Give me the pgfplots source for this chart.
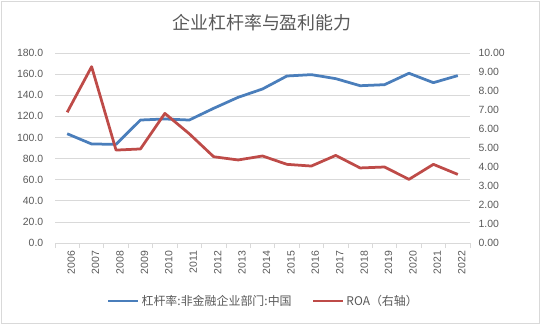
\documentclass[border=0pt]{standalone}
\usepackage{pgfplots}
\pgfplotsset{compat=1.18}
\usepackage{fontspec}
\setmainfont{Liberation Sans}
\newfontfamily\cjk{Noto Sans CJK SC}
\definecolor{txt}{HTML}{595959}
\definecolor{gridc}{HTML}{D9D9D9}
\definecolor{blu}{HTML}{4A7EBB}
\definecolor{rd}{HTML}{BE4B48}
\pgfplotsset{
  common/.style={
    at={(55bp,82bp)}, anchor=south west, scale only axis,
    width=415bp, height=190bp,
    xmin=-0.5, xmax=16.5,
    /pgf/number format/assume math mode=true,
    tick label style={txt, font=\fontsize{10.5}{12}\selectfont},
  },
  legend image code/.code={\draw[#1] (0bp,0bp) -- (30bp,0bp);},
}
\begin{document}
\begin{tikzpicture}[x=1bp,y=1bp]
\path[use as bounding box] (0,0) rectangle (541,325);
\draw[gridc, line width=0.75bp] (1,2) rectangle (539.5,323.5);
\node[txt, font=\cjk\fontsize{18}{20}\selectfont] at (262,302) {企业杠杆率与盈利能力};
\begin{axis}[common,
  ymin=0, ymax=180, ytick={0,20,...,180},
  yticklabel style={/pgf/number format/fixed, /pgf/number format/fixed zerofill, /pgf/number format/precision=1, xshift=-4bp},
  ytick style={draw=none},
  xtick={0,...,16},
  xticklabels={2006,2007,2008,2009,2010,2011,2012,2013,2014,2015,2016,2017,2018,2019,2020,2021,2022},
  xticklabel style={rotate=90, anchor=east, yshift=-4bp},
  major x tick style={draw=none},
  minor xtick={-0.5,0.5,...,16.5},
  minor x tick style={gridc, line width=0.75bp},
  minor tick length=5bp, tick align=outside,
  axis x line*=bottom, axis y line*=left,
  x axis line style={gridc, line width=0.75bp, -},
  y axis line style={draw=none},
  ymajorgrids, grid style={gridc, line width=0.75bp},
  legend columns=2,
  legend style={draw=none, fill=none, at={(0.502,-0.305)}, anchor=center,
    font=\cjk\fontsize{12}{14}\selectfont, text=txt,
    /tikz/every even column/.append style={column sep=18bp}},
]
\addplot[blu, line width=2.75bp, line join=round] coordinates {
(0,103.5) (1,93.8) (2,93.5) (3,116.5) (4,117.5) (5,116.5) (6,127.6) (7,138.0)
(8,145.9) (9,158.2) (10,159.5) (11,155.7) (12,149.0) (13,150.0) (14,160.8)
(15,151.9) (16,158.6)};
\addlegendentry{杠杆率:非金融企业部门:中国}
\addlegendimage{rd, line width=2.75bp}
\addlegendentry{ROA（右轴）}
\end{axis}
\begin{axis}[common,
  ymin=0, ymax=10, ytick={0,1,...,10},
  yticklabel style={/pgf/number format/fixed, /pgf/number format/fixed zerofill, /pgf/number format/precision=2, anchor=west, xshift=5bp},
  ytick style={draw=none},
  axis y line*=right, axis x line=none,
  y axis line style={draw=none},
]
\addplot[rd, line width=2.75bp, line join=round] coordinates {
(0,6.88) (1,9.28) (2,4.89) (3,4.95) (4,6.82) (5,5.75) (6,4.54) (7,4.37)
(8,4.58) (9,4.14) (10,4.05) (11,4.61) (12,3.95) (13,4.00) (14,3.35)
(15,4.14) (16,3.61)};
\end{axis}
\end{tikzpicture}
\end{document}
